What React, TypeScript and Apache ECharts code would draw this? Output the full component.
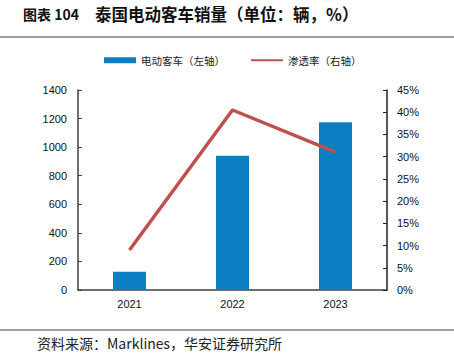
import React, { useEffect, useRef } from "react";
import * as echarts from "echarts";

const years = ["2021", "2022", "2023"];
const busSales = [128, 940, 1175];
const penetration = [9.0, 40.5, 31.0];

const titlePrefix = "图表 104";
const titleText = "泰国电动客车销量（单位：辆，%）";
const sourceText = "资料来源：Marklines，华安证券研究所";
const barName = "电动客车（左轴）";
const lineName = "渗透率（右轴）";

const FONT = "'Liberation Sans', Arial, 'Noto Sans CJK SC', sans-serif";
const CJK = "'Noto Sans CJK SC', sans-serif";

export default function App() {
  const ref = useRef<HTMLDivElement>(null);
  useEffect(() => {
    if (!ref.current) return;
    const chart = echarts.init(ref.current, undefined, { renderer: "svg" });
    chart.setOption({
      animation: false,
      backgroundColor: "#ffffff",
      textStyle: { fontFamily: FONT },
      grid: { left: 78, right: 67, top: 90, bottom: 70, containLabel: false },
      legend: {
        top: 50,
        left: 99,
        itemGap: 25,
        itemWidth: 32,
        itemHeight: 6,
        textStyle: { fontFamily: CJK, fontSize: 10.5, color: "#222" },
        data: [
          { name: barName, icon: "rect" },
          { name: lineName, itemStyle: { color: "rgba(0,0,0,0)", opacity: 0, borderWidth: 0 } },
        ],
      },
      xAxis: {
        type: "category",
        data: years,
        boundaryGap: true,
        axisLine: { lineStyle: { color: "#404040", width: 1.5 } },
        axisTick: { inside: true, length: 4, lineStyle: { color: "#404040" } },
        axisLabel: { fontSize: 11, color: "#111", margin: 8 },
      },
      yAxis: [
        {
          type: "value",
          min: 0,
          max: 1400,
          interval: 200,
          axisLine: { show: true, lineStyle: { color: "#404040", width: 1.5 } },
          axisTick: { show: true, inside: true, length: 4, lineStyle: { color: "#404040" } },
          splitLine: { show: false },
          axisLabel: { fontSize: 11, color: "#111", margin: 11, formatter: (v: number) => String(v) },
        },
        {
          type: "value",
          min: 0,
          max: 45,
          interval: 5,
          position: "right",
          axisLine: { show: true, lineStyle: { color: "#202020", width: 1.5 } },
          axisTick: { show: true, inside: true, length: 4, lineStyle: { color: "#202020" } },
          splitLine: { show: false },
          axisLabel: { fontSize: 11, color: "#111", margin: 10, formatter: "{value}%" },
        },
      ],
      series: [
        {
          name: barName,
          type: "bar",
          data: busSales,
          barWidth: 33,
          itemStyle: { color: "#0B7FC1" },
        },
        {
          name: lineName,
          type: "line",
          yAxisIndex: 1,
          data: penetration,
          symbol: "none",
          lineStyle: { color: "#C0504D", width: 3.5 },
          itemStyle: { color: "#C0504D" },
        },
      ],
      graphic: [
        {
          type: "text",
          left: 23,
          top: 7,
          style: { text: titlePrefix, font: `bold 14px ${CJK}`, fill: "#111" },
        },
        {
          type: "text",
          left: 95,
          top: 6,
          style: { text: titleText, font: `bold 16.5px ${CJK}`, fill: "#111" },
        },
        {
          type: "line",
          shape: { x1: 0, y1: 37, x2: 454, y2: 37 },
          style: { stroke: "#808080", lineWidth: 1.5 },
        },
        {
          type: "line",
          shape: { x1: 0, y1: 330, x2: 454, y2: 330 },
          style: { stroke: "#808080", lineWidth: 1.5 },
        },
        {
          type: "text",
          left: 37,
          top: 336,
          style: { text: sourceText, font: `14px ${CJK}`, fill: "#222" },
        },
      ],
    });
    return () => chart.dispose();
  }, []);
  return (
    <div
      ref={ref}
      style={{ position: "fixed", left: 0, top: 0, width: 454, height: 360 }}
    />
  );
}
